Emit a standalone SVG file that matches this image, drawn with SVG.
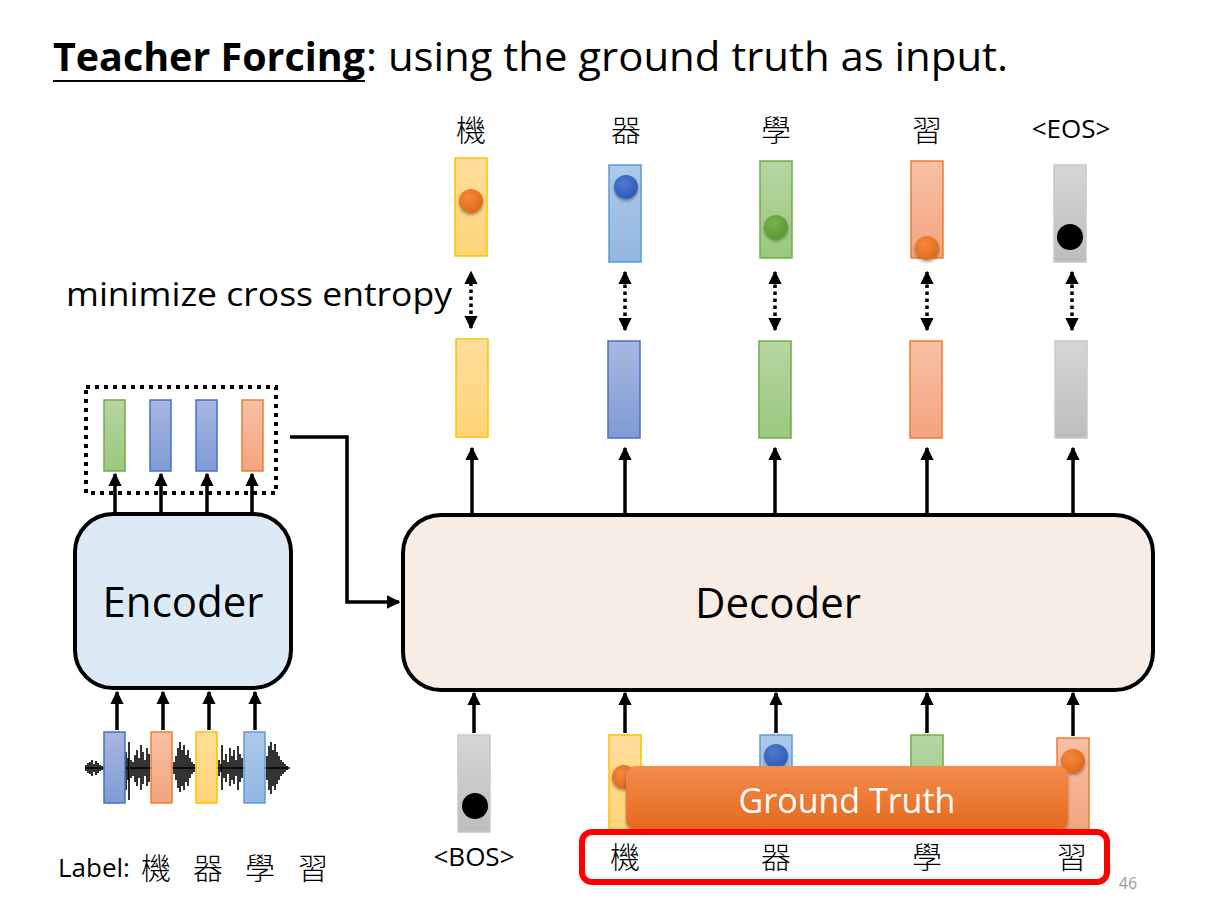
<svg xmlns="http://www.w3.org/2000/svg" width="1223" height="918" viewBox="0 0 1223 918">
<style>
.t{font-family:"Open Sans","Noto Sans","Liberation Sans","Noto Sans CJK TC",sans-serif;fill:#000}
.cjk{font-family:"Noto Sans CJK TC","Noto Sans CJK SC",sans-serif;font-weight:300;fill:#000}
.arr{stroke:#000;stroke-width:3.5;fill:none;marker-end:url(#ah)}
.dd{stroke:#000;stroke-width:3.5;fill:none;stroke-dasharray:3.5 3.5;marker-end:url(#ah);marker-start:url(#ahs)}
.y{fill:url(#gy);stroke:#ffc000;stroke-width:1.5}
.b{fill:url(#gb);stroke:#4472c4;stroke-width:1.5}
.lb{fill:url(#glb);stroke:#5b9bd5;stroke-width:1.5}
.g{fill:url(#gg);stroke:#70ad47;stroke-width:1.5}
.o{fill:url(#go);stroke:#ed7d31;stroke-width:1.5}
.k{fill:url(#gk);stroke:#c9c9c9;stroke-width:1.5}
</style>
<defs>
<marker id="ah" viewBox="0 0 10 10" refX="9" refY="5" markerWidth="3.8" markerHeight="3.8" orient="auto" markerUnits="strokeWidth"><path d="M0,0 L10,5 L0,10 z" fill="#000"/></marker>
<marker id="ahs" viewBox="0 0 10 10" refX="1" refY="5" markerWidth="3.8" markerHeight="3.8" orient="auto" markerUnits="strokeWidth"><path d="M10,0 L0,5 L10,10 z" fill="#000"/></marker>
<linearGradient id="gy" x1="0" y1="0" x2="0" y2="1"><stop offset="0" stop-color="#ffdd9c"/><stop offset="1" stop-color="#ffd478"/></linearGradient>
<linearGradient id="gb" x1="0" y1="0" x2="0" y2="1"><stop offset="0" stop-color="#a9b6e2"/><stop offset="1" stop-color="#7f9bd4"/></linearGradient>
<linearGradient id="glb" x1="0" y1="0" x2="0" y2="1"><stop offset="0" stop-color="#adc9ea"/><stop offset="1" stop-color="#93b7e2"/></linearGradient>
<linearGradient id="gg" x1="0" y1="0" x2="0" y2="1"><stop offset="0" stop-color="#b6d5a3"/><stop offset="1" stop-color="#9bc87d"/></linearGradient>
<linearGradient id="go" x1="0" y1="0" x2="0" y2="1"><stop offset="0" stop-color="#f7c0a5"/><stop offset="1" stop-color="#f4a47f"/></linearGradient>
<linearGradient id="gk" x1="0" y1="0" x2="0" y2="1"><stop offset="0" stop-color="#d6d6d6"/><stop offset="1" stop-color="#bdbdbd"/></linearGradient>
<linearGradient id="ggt" x1="0" y1="0" x2="0" y2="1"><stop offset="0" stop-color="#f28c4e"/><stop offset="1" stop-color="#e5691c"/></linearGradient>
<radialGradient id="dor" cx="0.4" cy="0.35" r="0.65"><stop offset="0" stop-color="#f6883c"/><stop offset="1" stop-color="#e06a1e"/></radialGradient>
<radialGradient id="dbl" cx="0.4" cy="0.35" r="0.65"><stop offset="0" stop-color="#4c7ad0"/><stop offset="1" stop-color="#2f5cb8"/></radialGradient>
<radialGradient id="dgr" cx="0.4" cy="0.35" r="0.65"><stop offset="0" stop-color="#78b34c"/><stop offset="1" stop-color="#5a9a35"/></radialGradient>
<filter id="sh" x="-30%" y="-30%" width="160%" height="170%"><feDropShadow dx="0" dy="2" stdDeviation="1.5" flood-color="#000" flood-opacity="0.35"/></filter>
</defs>

<g id="title">
<text class="t" x="53" y="71" font-size="40" font-weight="bold" textLength="312" lengthAdjust="spacingAndGlyphs">Teacher Forcing</text>
<text class="t" x="366" y="71" font-size="40" textLength="642" lengthAdjust="spacingAndGlyphs">: using the ground truth as input.</text>
<line x1="53" y1="81" x2="365" y2="81" stroke="#000" stroke-width="2"/>
</g>

<text id="mce" class="t" x="66" y="306" font-size="33" textLength="386" lengthAdjust="spacingAndGlyphs">minimize cross entropy</text>

<g id="targets">
<text class="cjk" x="471" y="141" font-size="30" text-anchor="middle">機</text>
<text class="cjk" x="626" y="141" font-size="30" text-anchor="middle">器</text>
<text class="cjk" x="776" y="141" font-size="30" text-anchor="middle">學</text>
<text class="cjk" x="927" y="141" font-size="30" text-anchor="middle">習</text>
<text class="t" x="1071" y="138" font-size="26" text-anchor="middle">&lt;EOS&gt;</text>
<rect class="y" x="455" y="158" width="32" height="98"/>
<circle cx="471" cy="201" r="12" fill="url(#dor)" filter="url(#sh)"/>
<rect class="lb" x="609" y="165" width="32" height="97"/>
<circle cx="626" cy="187" r="12" fill="url(#dbl)" filter="url(#sh)"/>
<rect class="g" x="760" y="161" width="32" height="97"/>
<circle cx="776" cy="227" r="12" fill="url(#dgr)" filter="url(#sh)"/>
<rect class="o" x="911" y="161" width="32" height="97"/>
<circle cx="927" cy="248" r="12" fill="url(#dor)" filter="url(#sh)"/>
<rect class="k" x="1054" y="165" width="32" height="97"/>
<circle cx="1070" cy="237" r="13" fill="#000"/>
</g>

<g id="outputs">
<rect class="y" x="456" y="339" width="32" height="98"/>
<rect class="b" x="608" y="341" width="32" height="97"/>
<rect class="g" x="759" y="341" width="32" height="97"/>
<rect class="o" x="910" y="341" width="32" height="97"/>
<rect class="k" x="1055" y="341" width="32" height="97"/>
</g>

<g id="encoder">
<rect x="75" y="514" width="216" height="174" rx="38" fill="#dce9f7" stroke="#000" stroke-width="4"/>
<text class="t" x="183" y="617" font-size="42" text-anchor="middle">Encoder</text>
</g>

<g id="decoder">
<rect x="403" y="515" width="750" height="175" rx="38" fill="#f8ede4" stroke="#000" stroke-width="4"/>
<text class="t" x="778" y="618" font-size="42" text-anchor="middle">Decoder</text>
</g>

<g id="enc-outputs">
<rect x="86" y="387" width="190" height="106" fill="none" stroke="#000" stroke-width="4" stroke-dasharray="4 5"/>
<rect class="g" x="104" y="400" width="21" height="71"/>
<rect class="b" x="150" y="400" width="21" height="71"/>
<rect class="b" x="196" y="400" width="21" height="71"/>
<rect class="o" x="242" y="400" width="21" height="71"/>
</g>

<g id="waveform">
<rect x="84" y="732" width="208" height="72" fill="#fff"/>
<path d="M85,768 H290" stroke="#000" stroke-width="1.5"/>
<path stroke="#000" stroke-width="1.6" fill="none" d="M86,765V771M88,763V773M90,762V774M92,760V776M94,764V772M96,761V775M98,763V773M100,765V771M102,766V770M126,752V790M128,758V780M129,742V800M131,760V778M133,762V776M135,755V782M137,750V786M139,758V778M141,745V790M143,752V784M145,760V776M147,748V786M149,754V782M174,762V774M176,756V780M178,748V788M180,742V792M182,750V786M184,745V790M186,755V782M188,750V786M190,758V778M192,762V774M194,764V772M219,760V776M221,764V772M222,745V790M224,760V778M226,754V782M228,762V774M230,748V786M232,756V780M234,750V784M236,760V776M238,746V790M240,754V782M242,758V778M267,756V780M269,746V790M271,742V794M273,750V786M275,744V790M277,752V784M279,756V780M281,760V776M283,762V774M285,764V772M287,766V770"/>
<rect class="b" x="104" y="732" width="21" height="71"/>
<rect class="o" x="151" y="732" width="21" height="71"/>
<rect class="y" x="196" y="732" width="21" height="71"/>
<rect class="lb" x="244" y="732" width="21" height="71"/>
</g>

<g id="label">
<text class="t" x="58" y="877" font-size="26">Label:</text>
<text class="cjk" x="141" y="879" font-size="30">機</text>
<text class="cjk" x="193" y="879" font-size="30">器</text>
<text class="cjk" x="245" y="879" font-size="30">學</text>
<text class="cjk" x="298" y="879" font-size="30">習</text>
</g>

<g id="dec-inputs">
<rect class="k" x="458" y="735" width="32" height="97"/>
<circle cx="475" cy="806" r="13" fill="#000"/>
<rect class="y" x="609" y="735" width="32" height="97"/>
<circle cx="624" cy="777" r="12" fill="url(#dor)" filter="url(#sh)"/>
<rect class="lb" x="760" y="735" width="32" height="97"/>
<circle cx="776" cy="756" r="12" fill="url(#dbl)" filter="url(#sh)"/>
<rect class="g" x="911" y="735" width="32" height="97"/>
<rect class="o" x="1057" y="738" width="32" height="94"/>
<circle cx="1073" cy="761" r="12" fill="url(#dor)" filter="url(#sh)"/>
</g>

<g id="ground-truth">
<rect x="626" y="766" width="442" height="64" rx="10" fill="url(#ggt)" filter="url(#sh)"/>
<text x="847" y="813" font-size="34" text-anchor="middle" font-family="Open Sans,Noto Sans,sans-serif" fill="#fff">Ground Truth</text>
</g>

<g id="gt-labels">
<rect x="582" y="832" width="525" height="50" rx="10" fill="none" stroke="#ff0000" stroke-width="6"/>
<text class="t" x="474" y="866" font-size="26" text-anchor="middle">&lt;BOS&gt;</text>
<text class="cjk" x="625" y="868" font-size="30" text-anchor="middle">機</text>
<text class="cjk" x="776" y="868" font-size="30" text-anchor="middle">器</text>
<text class="cjk" x="927" y="868" font-size="30" text-anchor="middle">學</text>
<text class="cjk" x="1072" y="868" font-size="30" text-anchor="middle">習</text>
</g>

<text id="page" x="1128" y="889" font-size="16" font-family="Open Sans,Noto Sans,sans-serif" fill="#999" text-anchor="middle">46</text>

<g id="connectors">
<path class="dd" d="M471,328 V272"/>
<path class="dd" d="M625,330 V272"/>
<path class="dd" d="M775,330 V272"/>
<path class="dd" d="M927,330 V272"/>
<path class="dd" d="M1072,330 V272"/>
<path class="arr" d="M472,513 V448"/>
<path class="arr" d="M625,513 V448"/>
<path class="arr" d="M775,513 V448"/>
<path class="arr" d="M927,513 V448"/>
<path class="arr" d="M1073,513 V448"/>
<path class="arr" d="M115,512 V474"/>
<path class="arr" d="M161,512 V474"/>
<path class="arr" d="M207,512 V474"/>
<path class="arr" d="M252,512 V474"/>
<path class="arr" d="M117,730 V692"/>
<path class="arr" d="M163,730 V692"/>
<path class="arr" d="M209,730 V692"/>
<path class="arr" d="M255,730 V692"/>
<path class="arr" d="M474,733 V693"/>
<path class="arr" d="M625,733 V693"/>
<path class="arr" d="M776,733 V693"/>
<path class="arr" d="M927,733 V693"/>
<path class="arr" d="M1073,736 V693"/>
<path class="arr" d="M290,437 H347 V602 H399" stroke-width="3"/>
</g>
</svg>
